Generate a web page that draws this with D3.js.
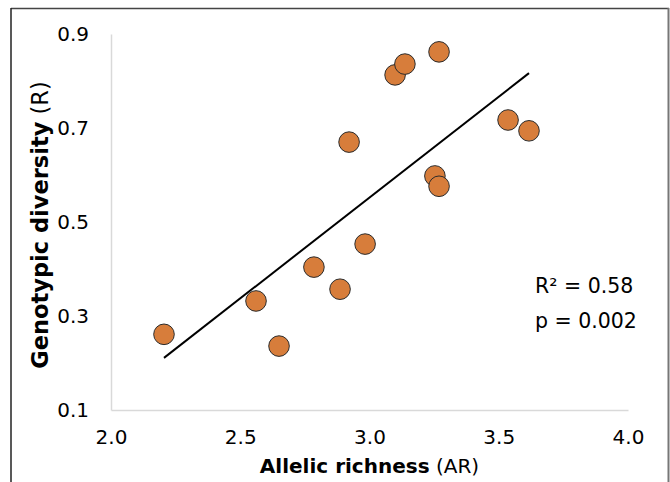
<!DOCTYPE html>
<html>
<head>
<meta charset="utf-8">
<script src="https://cdn.jsdelivr.net/npm/d3@7"></script>
<style>
    body { margin: 0; background: #fff; }
    svg { display: block; font-family: "DejaVu Sans", Verdana, sans-serif; }
</style>
</head>
<body>
<div id="chart"></div>
<script>
// allelic richness (AR) and genotypic diversity (R) per population
const allelicRichness = [2.205, 2.561, 2.650, 2.785, 2.886, 2.983, 2.921, 3.099, 3.137, 3.269, 3.253, 3.269, 3.536, 3.617];
const genotypicDiversity = [0.261, 0.332, 0.236, 0.404, 0.357, 0.453, 0.670, 0.813, 0.836, 0.862, 0.598, 0.576, 0.717, 0.694];

const xTicks = [2.0, 2.5, 3.0, 3.5, 4.0];
const yTicks = [0.1, 0.3, 0.5, 0.7, 0.9];

// linear trend  y = a + b*x
const trendIntercept = -0.735;
const trendSlope = 0.429;

const statLines = ['R² = 0.58', 'p = 0.002'];

var width = 670, height = 482;
var margin = { left: 111, right: 42, top: 34, bottom: 72 };

const svg = d3.select('#chart')
    .append('svg')
    .attr('width', width)
    .attr('height', height);

// outer frame (only top, left, right show in the crop)
svg.append('line').attr('x1', 11).attr('y1', 8.5).attr('x2', 669).attr('y2', 8.5)
    .attr('stroke', '#444').attr('stroke-width', 1.5);
svg.append('line').attr('x1', 11).attr('y1', 8).attr('x2', 11).attr('y2', height)
    .attr('stroke', '#222').attr('stroke-width', 1.5);
svg.append('line').attr('x1', 668.5).attr('y1', 8).attr('x2', 668.5).attr('y2', height)
    .attr('stroke', '#777').attr('stroke-width', 2);

const x = d3.scaleLinear()
    .domain([2.0, 4.0])
    .range([margin.left, width - margin.right]);

const y = d3.scaleLinear()
    .domain([0.1, 0.9])
    .range([height - margin.bottom, margin.top]);

// axes
const xAxis = svg.append('g')
    .attr('transform', `translate(0,${y(0.1)})`)
    .call(d3.axisBottom(x).tickValues(xTicks).tickFormat(d3.format('.1f')).tickSize(0).tickPadding(20));

const yAxis = svg.append('g')
    .attr('transform', `translate(${x(2.0)},0)`)
    .call(d3.axisLeft(y).tickValues(yTicks).tickFormat(d3.format('.1f')).tickSize(0).tickPadding(22));

[xAxis, yAxis].forEach(ax => {
    ax.select('.domain').attr('stroke', '#d9d9d9').attr('stroke-width', 1.5);
    ax.selectAll('text')
        .attr('font-family', '"DejaVu Sans", Verdana, sans-serif')
        .attr('font-size', 20)
        .attr('fill', '#000');
});
xAxis.selectAll('text').attr('dy', '0.71em');

// trend line over the data range
const xExtent = d3.extent(allelicRichness);
svg.append('line')
    .attr('x1', x(xExtent[0]))
    .attr('y1', y(trendIntercept + trendSlope * xExtent[0]))
    .attr('x2', x(xExtent[1]))
    .attr('y2', y(trendIntercept + trendSlope * xExtent[1]))
    .attr('stroke', '#000')
    .attr('stroke-width', 2);

// points
const points = allelicRichness.map((d, i) => ({ ar: d, r: genotypicDiversity[i] }));

svg.selectAll('circle.pt')
    .data(points)
    .enter()
    .append('circle')
    .attr('class', 'pt')
    .attr('cx', d => x(d.ar))
    .attr('cy', d => y(d.r))
    .attr('r', 10.3)
    .attr('fill', '#d77d3b')
    .attr('stroke', '#2b2b2b')
    .attr('stroke-width', 1);

// axis titles
const xTitle = svg.append('text')
    .attr('x', x(3.0))
    .attr('y', 473)
    .attr('text-anchor', 'middle')
    .attr('font-size', 20);
xTitle.append('tspan').attr('font-weight', 'bold').text('Allelic richness');
xTitle.append('tspan').text(' (AR)');

const yTitle = svg.append('text')
    .attr('transform', 'translate(48,225) rotate(-90)')
    .attr('text-anchor', 'middle')
    .attr('font-size', 22.5);
yTitle.append('tspan').attr('font-weight', 'bold').text('Genotypic diversity');
yTitle.append('tspan').text(' (R)');

// stats
svg.selectAll('text.stat')
    .data(statLines)
    .enter()
    .append('text')
    .attr('class', 'stat')
    .attr('x', 535)
    .attr('y', (d, i) => 293 + i * 35)
    .attr('font-size', 20.5)
    .text(d => d);
</script>
</body>
</html>
